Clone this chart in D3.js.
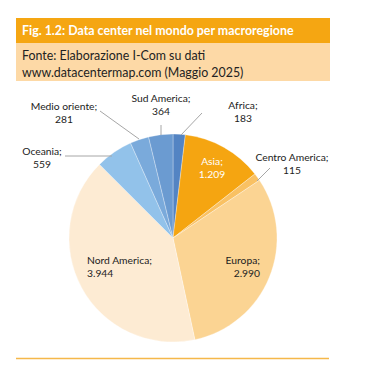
<!DOCTYPE html>
<html><head><meta charset="utf-8">
<script src="https://cdn.jsdelivr.net/npm/d3@7"></script>
<style>body{margin:0;background:#fff}svg{display:block}</style>
</head><body>
<svg id="c" width="370" height="368"></svg>
<script>
const categories = ["Africa","Asia","Centro America","Europa","Nord America","Oceania","Medio oriente","Sud America"];
const values = [183,1209,115,2990,3944,559,281,364];
const valueLabels = ["183","1.209","115","2.990","3.944","559","281","364"];
const colors = ["#5384c3","#f5a511","#f9c163","#fbd493","#fdebd3","#92c2ea","#7aaadb","#6b9bd1"];
const title = "Fig. 1.2: Data center nel mondo per macroregione";
const subtitle = ["Fonte: Elaborazione I-Com su dati","www.datacentermap.com (Maggio 2025)"];

const svg = d3.select("#c");
const font = "Lato, 'Open Sans', sans-serif";
svg.append("rect").attr("x",16).attr("y",18).attr("width",314).attr("height",25).attr("fill","#f5a612");
svg.append("rect").attr("x",16).attr("y",43).attr("width",314).attr("height",38).attr("fill","#fdd9a6");
svg.append("text").attr("x",22).attr("y",35).attr("fill","#fff").attr("font-family",font)
  .attr("font-weight","bold").attr("font-size",12.4).text(title);
svg.selectAll("text.sub").data(subtitle).join("text").attr("class","sub")
  .attr("x",22).attr("y",(d,i)=>60+i*17).attr("fill","#222").attr("font-family",font)
  .attr("font-size",12.4).text(d=>d);
svg.append("line").attr("x1",16).attr("x2",329).attr("y1",358.5).attr("y2",358.5)
  .attr("stroke","#f5b84a").attr("stroke-width",1.6);

const cx=173, cy=238, r=104;
const pie = d3.pie().sort(null).value(d=>d.v);
const data = pie(categories.map((c,i)=>({c,v:values[i],l:valueLabels[i],col:colors[i]})));
const arc = d3.arc().innerRadius(0).outerRadius(r);
const g = svg.append("g").attr("transform",`translate(${cx},${cy})`);
g.selectAll("path").data(data).join("path").attr("d",arc)
  .attr("fill",d=>d.data.col).attr("stroke","#ffffff").attr("stroke-opacity",0.5).attr("stroke-width",0.6);

const labelPos = {
  "Africa":{x:243,y:105,a:"middle",c:"#222",line:[[202,113],[181,135]]},
  "Asia":{x:212,y:161,a:"middle",c:"#fff"},
  "Centro America":{x:292,y:157,a:"middle",c:"#222",line:[[270,168],[257,181]]},
  "Europa":{x:260,y:260,a:"end",c:"#222"},
  "Nord America":{x:87,y:260,a:"start",c:"#222"},
  "Oceania":{x:42,y:151,a:"middle",c:"#222",line:[[65,156],[112,156]]},
  "Medio oriente":{x:64,y:106,a:"middle",c:"#222",line:[[100,111],[139,139]]},
  "Sud America":{x:161,y:98,a:"middle",c:"#222",line:[[161,125],[161,135]]}
};
data.forEach(d=>{
  const p = labelPos[d.data.c];
  if(p.line){
    svg.append("line").attr("x1",p.line[0][0]).attr("y1",p.line[0][1])
      .attr("x2",p.line[1][0]).attr("y2",p.line[1][1]).attr("stroke","#a6a6a6").attr("stroke-width",1);
  }
  const t = svg.append("text").attr("font-family",font).attr("font-size",10.3)
    .attr("fill",p.c).attr("text-anchor",p.a);
  t.append("tspan").attr("x",p.x).attr("y",p.y+4).text(d.data.c+";");
  t.append("tspan").attr("x",p.x).attr("y",p.y+17).text(d.data.l);
});
</script>
</body></html>
